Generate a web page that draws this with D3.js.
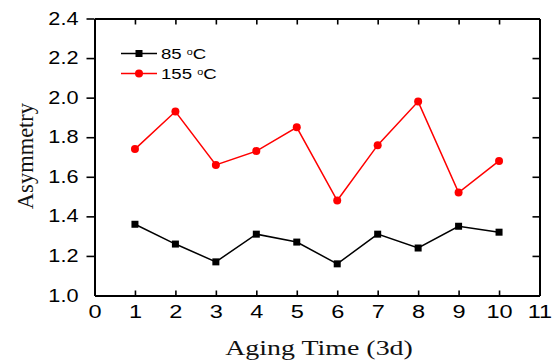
<!DOCTYPE html>
<html>
<head>
<meta charset="utf-8">
<script src="https://cdn.jsdelivr.net/npm/d3@7"></script>
<style>
  html, body { margin: 0; padding: 0; background: #fff; }
  svg { display: block; }
</style>
</head>
<body>
<svg id="chart" width="558" height="364"></svg>
<script>
const agingTime = [1, 2, 3, 4, 5, 6, 7, 8, 9, 10];
const asym85 = [1.36, 1.26, 1.17, 1.31, 1.27, 1.16, 1.31, 1.24, 1.35, 1.32];
const asym155 = [1.74, 1.93, 1.66, 1.73, 1.85, 1.48, 1.76, 1.98, 1.52, 1.68];
const xTicks = [0, 1, 2, 3, 4, 5, 6, 7, 8, 9, 10, 11];
const yTicks = [1.0, 1.2, 1.4, 1.6, 1.8, 2.0, 2.2, 2.4];
const seriesNames = ["85 ", "155 "];
const xTitle = "Aging Time (3d)";
const yTitle = "Asymmetry";

const svg = d3.select("#chart");
const pLeft = 94.5, pRight = 539.5, pTop = 18.5, pBottom = 295.5;
const sx = 1.24; // horizontal stretch of the original artwork text

const x = d3.scaleLinear().domain([0, 11]).range([pLeft, pRight]);
const y = d3.scaleLinear().domain([1.0, 2.4]).range([pBottom, pTop]);

const sans = "Arial, 'Liberation Sans', sans-serif";
const serif = "'Times New Roman', 'Liberation Serif', serif";

const gx = svg.append("g").attr("transform", `translate(0,${pBottom})`)
  .call(d3.axisBottom(x).tickValues(xTicks).tickFormat(d3.format("d"))
    .tickSizeInner(-5).tickSizeOuter(0).tickPadding(9));
const gy = svg.append("g").attr("transform", `translate(${pLeft},0)`)
  .call(d3.axisLeft(y).tickValues(yTicks).tickFormat(d3.format(".1f"))
    .tickSizeInner(8).tickSizeOuter(0).tickPadding(8));
const gt = svg.append("g").attr("transform", `translate(0,${pTop})`)
  .call(d3.axisTop(x).tickValues(xTicks.slice(1, -1)).tickFormat("")
    .tickSizeInner(-6).tickSizeOuter(0));
const gr = svg.append("g").attr("transform", `translate(${pRight},0)`)
  .call(d3.axisRight(y).tickValues(yTicks.slice(1, -1)).tickFormat("")
    .tickSizeInner(-7).tickSizeOuter(0));

[gx, gy, gt, gr].forEach(g => {
  g.select(".domain").attr("stroke", "#000").attr("stroke-width", 2);
  g.selectAll(".tick line").attr("stroke", "#000").attr("stroke-width", 1.6);
});
gx.selectAll(".tick text").attr("font-family", sans).attr("font-size", 19).attr("fill", "#000")
  .attr("transform", `scale(${sx},1)`);
gy.selectAll(".tick text").attr("font-family", sans).attr("font-size", 17.5).attr("fill", "#000")
  .attr("x", -16 / sx).attr("transform", `scale(${sx},1)`);
gx.selectAll(".tick line").filter(d => d === 0 || d === 11).remove();
gy.selectAll(".tick line").filter(d => d === 1.0).remove();

svg.append("text")
  .attr("transform", `translate(${(pLeft + pRight) / 2 + 2},355) scale(1.27,1)`)
  .attr("text-anchor", "middle").attr("font-family", serif).attr("font-size", 22)
  .attr("fill", "#111").text(xTitle);
svg.append("text")
  .attr("transform", `translate(33,156) rotate(-90)`)
  .attr("text-anchor", "middle").attr("font-family", serif).attr("font-size", 22.5)
  .attr("fill", "#111").text(yTitle);

const line = d3.line().x((d, i) => x(agingTime[i])).y(d => y(d));

svg.append("path").datum(asym85).attr("d", line)
  .attr("fill", "none").attr("stroke", "#000").attr("stroke-width", 1.5);
svg.selectAll(".sq").data(asym85).enter().append("rect")
  .attr("x", (d, i) => x(agingTime[i]) - 3.5).attr("y", d => y(d) - 3.5)
  .attr("width", 7).attr("height", 7).attr("fill", "#000");

svg.append("path").datum(asym155).attr("d", line)
  .attr("fill", "none").attr("stroke", "#ff0000").attr("stroke-width", 1.5);
svg.selectAll(".ci").data(asym155).enter().append("circle")
  .attr("cx", (d, i) => x(agingTime[i])).attr("cy", d => y(d))
  .attr("r", 4).attr("fill", "#ff0000");

const legend = [
  { name: seriesNames[0], color: "#000", shape: "square", yy: 53.5 },
  { name: seriesNames[1], color: "#ff0000", shape: "circle", yy: 73.5 }
];
legend.forEach(l => {
  svg.append("line").attr("x1", 121).attr("x2", 157).attr("y1", l.yy).attr("y2", l.yy)
    .attr("stroke", l.color).attr("stroke-width", 1.5);
  if (l.shape === "square") {
    svg.append("rect").attr("x", 139 - 3.5).attr("y", l.yy - 3.5).attr("width", 7).attr("height", 7).attr("fill", l.color);
  } else {
    svg.append("circle").attr("cx", 139).attr("cy", l.yy).attr("r", 4).attr("fill", l.color);
  }
  const t = svg.append("text").attr("transform", `translate(161,${l.yy + 5.5}) scale(1.2,1)`)
    .attr("font-family", sans).attr("font-size", 15.5).attr("fill", "#000");
  t.append("tspan").text(l.name);
  t.append("tspan").attr("font-size", 9).attr("dy", -4).text("o");
  t.append("tspan").attr("dy", 4).text("C");
});
</script>
</body>
</html>
